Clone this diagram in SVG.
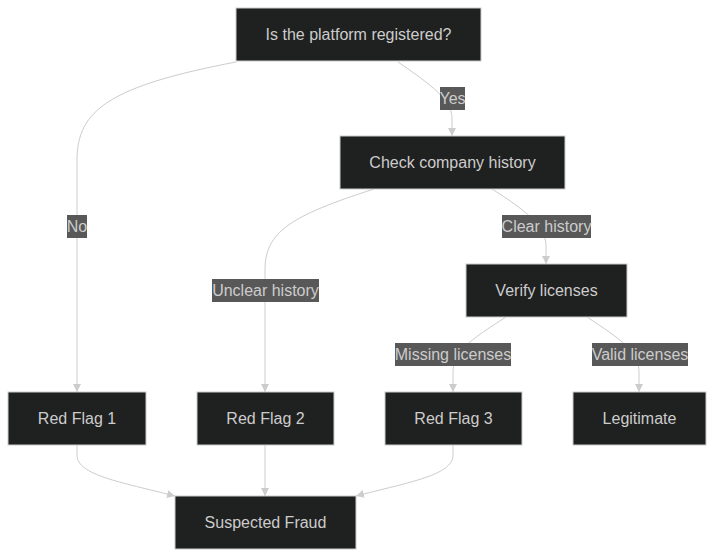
<svg xmlns="http://www.w3.org/2000/svg" width="715" height="558" viewBox="0 0 715 558">
<style>
.node rect{fill:#1f2020;stroke:#cccccc;stroke-width:1}
.node text,.lbl text{font-family:"Liberation Sans",Arial,sans-serif;font-size:16px;fill:#cccccc;text-anchor:middle;dominant-baseline:central}
.edge{fill:none;stroke:#cccccc;stroke-width:1}
.lbl rect{fill:#585858}
</style>
<defs>
<marker id="arr" viewBox="0 0 10 10" refX="10" refY="5" markerWidth="8" markerHeight="8" markerUnits="userSpaceOnUse" orient="auto">
<path d="M0,0 L10,5 L0,10 z" fill="#cccccc"/>
</marker>
</defs>
<rect width="715" height="558" fill="#ffffff"/>
<g id="connectors">
<path class="edge" marker-end="url(#arr)" d="M236,62 C110,86 77,110 77,160 L77,392"/>
<path class="edge" marker-end="url(#arr)" d="M398,62 C430,84 452,100 452,118 L452,136"/>
<path class="edge" marker-end="url(#arr)" d="M374,189 C290,216 265,232 265,270 L265,392"/>
<path class="edge" marker-end="url(#arr)" d="M492,189 C525,210 546,226 546,246 L546,264"/>
<path class="edge" marker-end="url(#arr)" d="M506,317 C470,340 453,352 453,372 L453,392"/>
<path class="edge" marker-end="url(#arr)" d="M587,317 C622,340 639,352 639,372 L639,392"/>
<path class="edge" marker-end="url(#arr)" d="M77,445 L77,455 C77,475 120,482 175,496"/>
<path class="edge" marker-end="url(#arr)" d="M265,445 L265,496"/>
<path class="edge" marker-end="url(#arr)" d="M453,445 L453,455 C453,475 410,482 356,496"/>
</g>
<g id="edge-labels">
<g class="lbl"><rect x="440" y="87" width="25" height="23"/><text x="452.5" y="98.5">Yes</text></g>
<g class="lbl"><rect x="67" y="215" width="20" height="23"/><text x="77" y="226.5">No</text></g>
<g class="lbl"><rect x="212" y="279" width="107" height="23"/><text x="265.5" y="290.5">Unclear history</text></g>
<g class="lbl"><rect x="502" y="215" width="89" height="23"/><text x="546.5" y="226.5">Clear history</text></g>
<g class="lbl"><rect x="395" y="343" width="116" height="23"/><text x="453" y="354.5">Missing licenses</text></g>
<g class="lbl"><rect x="592" y="343" width="96" height="23"/><text x="640" y="354.5">Valid licenses</text></g>
</g>
<g id="n-registered" class="node"><rect x="236" y="8" width="245" height="53"/><text x="358.5" y="34.5">Is the platform registered?</text></g>
<g id="n-history" class="node"><rect x="340" y="136" width="225" height="53"/><text x="452.5" y="162.5">Check company history</text></g>
<g id="n-licenses" class="node"><rect x="466" y="264" width="161" height="53"/><text x="546.5" y="290.5">Verify licenses</text></g>
<g id="n-rf1" class="node"><rect x="8" y="392" width="138" height="53"/><text x="77" y="418.5">Red Flag 1</text></g>
<g id="n-rf2" class="node"><rect x="197" y="392" width="137" height="53"/><text x="265.5" y="418.5">Red Flag 2</text></g>
<g id="n-rf3" class="node"><rect x="385" y="392" width="137" height="53"/><text x="453.5" y="418.5">Red Flag 3</text></g>
<g id="n-legit" class="node"><rect x="573" y="392" width="133" height="53"/><text x="639.5" y="418.5">Legitimate</text></g>
<g id="n-fraud" class="node"><rect x="175" y="496" width="181" height="53"/><text x="265.5" y="522.5">Suspected Fraud</text></g>
</svg>
